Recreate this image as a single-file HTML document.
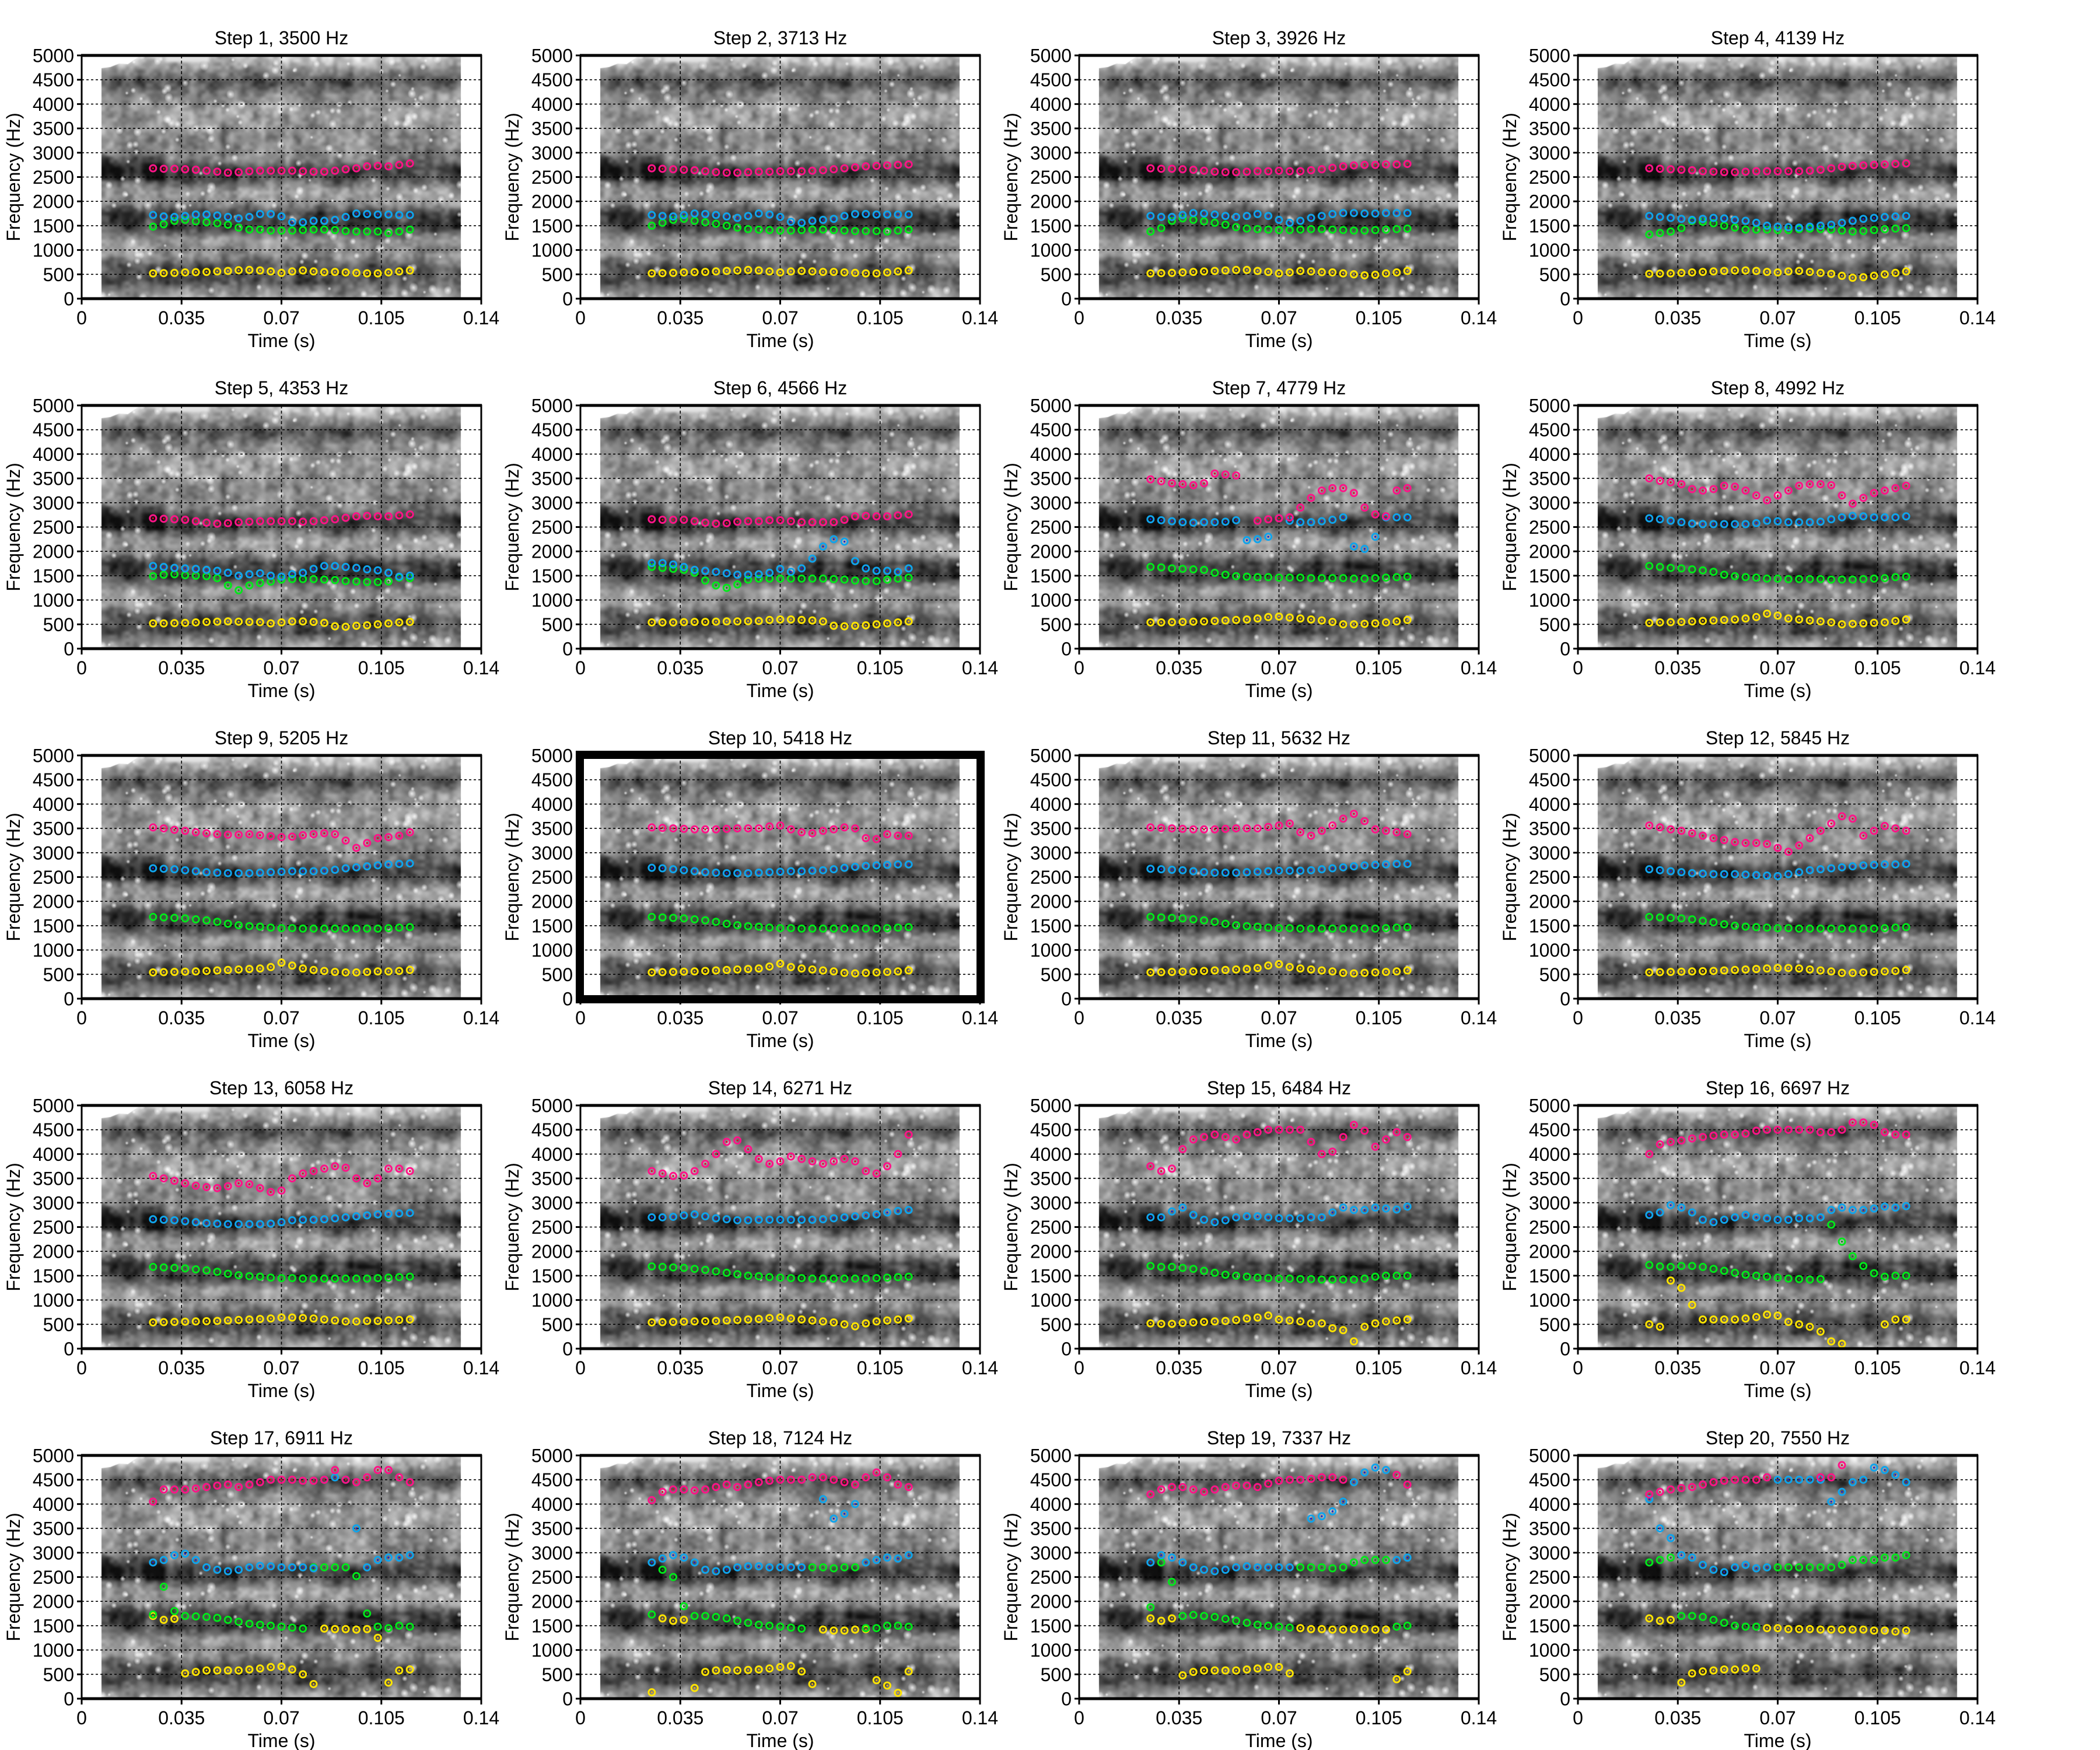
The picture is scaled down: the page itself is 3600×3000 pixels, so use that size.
<!DOCTYPE html>
<html><head><meta charset="utf-8"><title>Formant tracks per step</title>
<style>
html,body{margin:0;padding:0;background:#fff;}
#wrap{position:relative;width:3600px;height:3000px;overflow:hidden;}
#bg,#fg{position:absolute;left:0;top:0;}
text{font-family:"Liberation Sans",Arial,sans-serif;fill:#000;}
</style></head>
<body>
<div id="wrap">
<canvas id="bg" width="3600" height="3000"></canvas>
<svg id="fg" width="3600" height="3000" xmlns="http://www.w3.org/2000/svg"></svg>
</div>
<script>
const stepFreqs = [3500,3713,3926,4139,4353,4566,4779,4992,5205,5418,5632,5845,6058,6271,6484,6697,6911,7124,7337,7550];
const sampleTimes = [0.025,0.02875,0.0325,0.03625,0.04,0.04375,0.0475,0.05125,0.055,0.05875,0.0625,0.06625,0.07,0.07375,0.0775,0.08125,0.085,0.08875,0.0925,0.09625,0.1,0.10375,0.1075,0.11125,0.115];
const xTicks = [0,0.035,0.07,0.105,0.14];
const xTickLabels = ["0","0.035","0.07","0.105","0.14"];
const yTicks = [0,500,1000,1500,2000,2500,3000,3500,4000,4500,5000];
const highlightedStep = 10;

const yellowF1 = [
[520,525,530,540,545,550,560,570,585,590,580,560,530,560,580,560,545,550,540,530,520,520,540,560,580],
[520,525,530,540,545,550,560,570,580,590,580,560,540,560,570,560,550,550,540,530,520,520,540,560,580],
[520,525,530,540,550,560,570,580,590,590,570,550,520,540,570,560,545,540,520,500,480,490,520,540,570],
[510,515,520,530,540,550,560,570,580,580,570,550,540,560,570,550,530,510,470,430,440,470,500,530,560],
[520,520,525,530,540,550,555,560,555,550,545,520,540,560,560,550,530,460,450,470,480,500,520,540,550],
[540,540,540,545,550,550,555,560,560,565,570,590,600,600,590,580,560,470,460,470,480,500,520,540,560],
[540,540,545,550,555,560,570,580,590,600,620,650,660,640,620,600,580,550,500,500,510,520,540,560,590],
[530,540,545,550,560,570,580,590,600,620,650,720,680,620,600,580,560,540,500,510,520,530,540,570,600],
[540,545,550,555,560,570,580,590,600,610,620,650,740,680,620,590,570,550,540,540,550,560,560,570,590],
[540,545,550,555,560,570,580,590,600,610,620,660,720,650,620,600,580,560,530,520,530,540,550,560,580],
[540,545,550,555,560,570,580,590,600,610,630,680,710,650,620,600,580,560,530,520,530,540,550,560,580],
[540,545,550,555,560,565,570,580,590,600,610,620,630,630,620,600,580,560,530,530,540,550,560,570,590],
[540,545,550,555,560,565,570,580,590,600,610,620,640,640,630,620,600,580,560,560,570,570,580,590,600],
[540,545,550,555,560,565,570,580,590,600,610,630,640,620,600,580,560,540,500,460,520,560,580,600,620],
[520,510,510,530,540,550,560,570,590,620,640,680,600,580,560,520,520,420,380,150,450,520,560,580,600],
[500,450,1400,1250,900,600,600,600,600,620,650,700,680,550,500,450,350,150,100,null,null,null,500,600,600],
[1700,1620,1640,520,550,580,580,580,580,600,620,650,660,600,500,300,1440,1430,1430,1420,1430,1250,330,580,600],
[130,1650,1600,1620,220,550,580,590,580,590,600,620,650,670,560,300,1420,1400,1400,1420,1430,380,270,120,560],
[1650,1600,1650,480,550,580,580,580,580,600,620,650,650,520,1450,1430,1430,1420,1420,1430,1430,1420,1420,400,560],
[1650,1600,1620,330,520,560,580,600,600,620,620,1450,1450,1430,1430,1430,1420,1420,1420,1420,1420,1400,1400,1380,1400]
];
const greenF2 = [
[1480,1530,1600,1620,1590,1570,1550,1520,1460,1420,1420,1400,1400,1400,1410,1420,1420,1410,1390,1380,1380,1380,1350,1380,1420],
[1500,1560,1620,1640,1600,1570,1540,1500,1460,1430,1420,1410,1400,1400,1410,1420,1420,1410,1400,1390,1390,1390,1380,1400,1420],
[1380,1450,1600,1650,1620,1590,1560,1520,1470,1440,1430,1420,1410,1410,1420,1430,1430,1420,1410,1400,1400,1410,1420,1430,1440],
[1320,1350,1380,1450,1600,1580,1550,1500,1460,1420,1420,1420,1410,1410,1430,1440,1430,1420,1400,1380,1390,1410,1430,1440,1450],
[1490,1520,1530,1510,1500,1490,1450,1300,1200,1300,1350,1380,1420,1430,1430,1430,1420,1410,1390,1380,1370,1370,1380,1460,1450],
[1680,1660,1640,1620,1560,1400,1300,1250,1320,1420,1440,1440,1440,1440,1440,1440,1440,1430,1420,1400,1390,1390,1420,1440,1460],
[1680,1670,1650,1640,1630,1620,1560,1520,1490,1480,1470,1470,1460,1460,1460,1450,1450,1450,1450,1440,1440,1450,1460,1470,1480],
[1700,1680,1660,1650,1630,1610,1580,1520,1490,1470,1460,1440,1440,1430,1430,1430,1430,1420,1420,1420,1430,1440,1450,1470,1480],
[1680,1670,1660,1650,1630,1610,1580,1540,1510,1490,1480,1460,1450,1450,1440,1440,1440,1440,1440,1440,1440,1440,1450,1460,1470],
[1680,1670,1660,1650,1630,1610,1580,1540,1510,1490,1480,1460,1450,1450,1440,1440,1440,1440,1440,1440,1440,1440,1450,1460,1470],
[1680,1670,1660,1650,1630,1610,1580,1540,1510,1490,1480,1460,1450,1450,1440,1440,1440,1440,1440,1440,1440,1440,1450,1460,1470],
[1680,1670,1660,1650,1630,1600,1570,1530,1500,1480,1470,1460,1450,1450,1440,1440,1440,1440,1440,1440,1440,1440,1450,1460,1470],
[1680,1670,1660,1650,1630,1610,1580,1540,1510,1490,1480,1460,1450,1450,1440,1440,1440,1440,1440,1440,1440,1450,1460,1470,1480],
[1690,1680,1670,1660,1640,1620,1590,1560,1530,1500,1490,1470,1460,1450,1450,1440,1440,1440,1440,1440,1440,1450,1460,1470,1480],
[1700,1680,1680,1660,1640,1600,1560,1520,1500,1480,1460,1450,1440,1440,1430,1430,1420,1420,1420,1420,1440,1480,1500,1500,1500],
[1720,1690,1680,1700,1700,1680,1640,1600,1560,1520,1500,1480,1460,1440,1430,1420,1430,2550,2200,1900,1700,1550,1480,1500,1500],
[1730,2300,1800,1700,1690,1680,1660,1620,1580,1540,1520,1500,1480,1460,1440,2700,2700,2700,2700,2520,1750,1480,1450,1500,1480],
[1730,2650,2500,1900,1700,1700,1680,1650,1600,1560,1520,1500,1480,1460,1440,2700,2700,2680,2700,2700,1450,1450,1500,1500,1480],
[1880,2800,2400,1700,1720,1700,1680,1640,1600,1560,1520,1500,1480,1460,2700,2700,2700,2680,2700,2800,2850,2850,2850,1480,1500],
[2800,2850,2900,1700,1700,1680,1620,1560,1500,1480,1480,2700,2700,2700,2700,2700,2700,2700,2750,2850,2850,2850,2900,2900,2950]
];
const blueF3 = [
[1720,1690,1680,1700,1730,1730,1710,1680,1650,1680,1740,1740,1690,1570,1570,1600,1600,1620,1680,1750,1740,1730,1730,1720,1720],
[1720,1700,1690,1720,1750,1740,1720,1690,1660,1700,1750,1730,1680,1580,1560,1600,1620,1640,1700,1740,1740,1730,1730,1730,1730],
[1700,1680,1680,1720,1760,1750,1730,1700,1680,1700,1740,1700,1620,1560,1600,1660,1700,1740,1760,1760,1750,1750,1760,1760,1760],
[1700,1680,1660,1640,1620,1640,1660,1650,1620,1600,1560,1500,1480,1470,1460,1480,1500,1520,1560,1600,1640,1660,1680,1690,1700],
[1700,1680,1660,1650,1640,1620,1600,1560,1500,1530,1550,1500,1480,1530,1560,1640,1700,1700,1680,1660,1630,1610,1560,1480,1500],
[1760,1760,1730,1680,1620,1600,1580,1550,1520,1520,1530,1560,1640,1580,1650,1850,2100,2250,2200,1800,1650,1600,1600,1580,1650],
[2660,2640,2620,2600,2590,2600,2600,2610,2640,2230,2250,2300,2680,2630,2600,2600,2620,2650,2700,2100,2050,2300,2700,2700,2700],
[2680,2660,2630,2600,2570,2560,2560,2560,2560,2560,2580,2630,2620,2600,2600,2600,2610,2660,2700,2730,2720,2700,2700,2700,2720],
[2680,2670,2660,2640,2620,2600,2590,2580,2580,2580,2590,2600,2610,2620,2620,2620,2630,2650,2680,2700,2720,2740,2760,2770,2780],
[2690,2680,2660,2640,2620,2600,2590,2580,2580,2580,2590,2600,2610,2620,2620,2630,2640,2660,2690,2710,2730,2740,2750,2760,2760],
[2670,2660,2650,2640,2620,2600,2590,2590,2590,2600,2610,2620,2630,2630,2630,2640,2660,2680,2700,2720,2740,2750,2760,2770,2770],
[2660,2640,2620,2600,2580,2570,2560,2560,2560,2550,2540,2530,2520,2560,2600,2640,2660,2680,2700,2720,2740,2750,2760,2760,2770],
[2660,2650,2640,2620,2600,2580,2570,2560,2560,2560,2560,2570,2600,2640,2650,2650,2660,2680,2700,2720,2740,2760,2770,2780,2790],
[2700,2700,2710,2740,2760,2720,2680,2660,2640,2640,2650,2650,2650,2650,2650,2650,2660,2680,2700,2720,2740,2760,2800,2830,2850],
[2700,2700,2820,2900,2750,2650,2600,2640,2700,2720,2720,2700,2680,2680,2680,2700,2700,2800,2900,2850,2850,2900,2880,2860,2920],
[2750,2800,2950,2900,2800,2650,2600,2650,2700,2750,2700,2680,2650,2650,2680,2680,2700,2850,2900,2850,2850,2880,2920,2900,2930],
[2800,2850,2950,2980,2850,2700,2650,2620,2650,2700,2730,2720,2700,2700,2700,2680,4500,4550,4500,3500,2700,2850,2900,2900,2950],
[2800,2880,2950,2900,2800,2650,2620,2650,2700,2720,2720,2700,2700,2700,2700,4550,4100,3700,3800,4000,2800,2850,2900,2880,2950],
[2800,2950,2900,2800,2700,2650,2620,2650,2700,2720,2700,2700,2700,2700,4500,3700,3750,3850,4050,4450,4650,4750,4700,2850,2900],
[4100,3500,3300,2950,2900,2750,2650,2600,2700,2750,2680,2700,4500,4500,4500,4500,4500,4050,4250,4450,4500,4750,4700,4600,4450]
];
const pinkF4 = [
[2680,2670,2670,2660,2650,2630,2610,2590,2600,2620,2630,2630,2630,2630,2620,2610,2610,2630,2660,2680,2720,2730,2720,2750,2780],
[2680,2670,2660,2650,2640,2620,2600,2590,2590,2600,2610,2610,2620,2620,2620,2630,2640,2660,2680,2700,2720,2730,2740,2750,2760],
[2680,2670,2670,2660,2650,2630,2610,2600,2600,2610,2620,2620,2630,2620,2620,2640,2660,2690,2720,2740,2750,2750,2760,2760,2770],
[2680,2670,2660,2650,2640,2620,2610,2600,2600,2610,2620,2620,2620,2620,2620,2630,2650,2680,2710,2730,2740,2750,2760,2770,2780],
[2680,2670,2660,2650,2620,2590,2570,2580,2600,2610,2620,2620,2620,2620,2610,2620,2640,2660,2690,2720,2730,2720,2720,2740,2760],
[2660,2650,2650,2650,2620,2590,2570,2580,2610,2620,2620,2640,2640,2620,2600,2600,2600,2600,2650,2720,2730,2720,2720,2740,2760],
[3480,3440,3400,3380,3360,3400,3600,3580,3560,null,2630,2660,2680,2700,2900,3100,3250,3300,3300,3200,2900,2760,2720,3250,3300],
[3500,3450,3420,3380,3280,3250,3280,3350,3330,3250,3150,3050,3150,3250,3350,3380,3380,3360,3150,2980,3100,3200,3250,3300,3350],
[3520,3500,3470,3450,3420,3400,3380,3370,3370,3380,3360,3340,3320,3330,3360,3380,3400,3380,3250,3100,3200,3300,3320,3350,3420],
[3520,3510,3500,3490,3480,3480,3480,3490,3500,3500,3500,3540,3560,3480,3420,3400,3450,3480,3520,3500,3300,3280,3380,3350,3350],
[3520,3510,3500,3490,3480,3480,3480,3490,3500,3500,3500,3530,3560,3600,3420,3350,3450,3560,3700,3800,3650,3480,3450,3420,3380],
[3560,3520,3480,3450,3400,3350,3300,3260,3220,3200,3200,3180,3100,3020,3150,3300,3450,3600,3750,3700,3350,3450,3550,3500,3450],
[3550,3500,3450,3400,3350,3320,3300,3340,3400,3380,3300,3220,3250,3500,3600,3650,3700,3750,3720,3500,3400,3500,3700,3700,3650],
[3650,3600,3550,3560,3650,3800,4000,4250,4280,4100,3900,3800,3850,3950,3900,3850,3800,3850,3900,3850,3650,3600,3750,4000,4400],
[3750,3650,3700,4100,4300,4350,4400,4350,4300,4400,4450,4500,4500,4500,4500,4250,4000,4050,4350,4600,4480,4150,4300,4450,4350],
[4000,4200,4250,4280,4320,4350,4380,4400,4400,4420,4480,4500,4500,4500,4500,4500,4450,4450,4500,4650,4650,4600,4450,4400,4400],
[4050,4300,4300,4300,4320,4350,4380,4400,4350,4400,4450,4500,4500,4500,4480,4480,4500,4700,4500,4450,4550,4700,4700,4550,4450],
[4080,4250,4300,4300,4280,4300,4350,4400,4350,4400,4450,4480,4500,4500,4500,4550,4550,4500,4450,4400,4550,4650,4550,4400,4350],
[4200,4300,4350,4350,4300,4250,4300,4350,4380,4380,4350,4420,4480,4500,4500,4520,4550,4550,4500,null,null,null,null,4600,4400],
[4200,4250,4300,4330,4350,4400,4450,4480,4500,4500,4500,4550,null,null,null,null,4550,4550,4800,null,null,null,null,null,null]
];

const tracks = [
  {name:'f1-track', vals:yellowF1, color:'#ffe400', inner:'#f0b000'},
  {name:'f2-track', vals:greenF2, color:'#00e81a', inner:'#108a10'},
  {name:'f3-track', vals:blueF3, color:'#10a4ec', inner:'#1020d0'},
  {name:'f4-track', vals:pinkF4, color:'#ff1488', inner:'#e00020'}
];

const PW = 685, PH = 417, T_MAX = 0.14, F_MAX = 5000;
const colLeft = [140, 995, 1850, 2705];
const rowTop = [95, 695, 1295, 1895, 2495];
const NS = 'http://www.w3.org/2000/svg';
const svg = document.getElementById('fg');

function mk(tag, attrs, parent) {
  const e = document.createElementNS(NS, tag);
  for (const k in attrs) e.setAttribute(k, attrs[k]);
  (parent || svg).appendChild(e);
  return e;
}

// ---- spectrogram texture (shared background for all panels) ----
function mulberry(a){return function(){a|=0;a=a+0x6D2B79F5|0;let t=Math.imul(a^a>>>15,1|a);t=t+Math.imul(t^t>>>7,61|t)^t;return((t^t>>>14)>>>0)/4294967296;};}
const bandF = [0,150,350,650,900,1200,1450,1750,1950,2200,2450,2650,2850,3100,3500,3900,4200,4450,4650,4850,5000];
const bandB = [170,140,75,80,150,150,70,65,150,170,80,55,125,135,150,160,130,80,125,185,205];
function baseB(f){
  for(let i=1;i<bandF.length;i++){ if(f<=bandF[i]){const u=(f-bandF[i-1])/(bandF[i]-bandF[i-1]);return bandB[i-1]+u*(bandB[i]-bandB[i-1]);} }
  return 205;
}
function buildSpec(){
  const sw=Math.round(0.126/T_MAX*PW), sh=PH;
  // coarse noise layer
  const NW=34,NH=22;
  const cn=document.createElement('canvas'); cn.width=NW; cn.height=NH;
  const gn=cn.getContext('2d'); const im=gn.createImageData(NW,NH);
  const rn=mulberry(99);
  for(let i=0;i<NW*NH;i++){const v=Math.round(128+(rn()-0.5)*150);im.data[i*4]=im.data[i*4+1]=im.data[i*4+2]=v;im.data[i*4+3]=255;}
  gn.putImageData(im,0,0);
  const W=90,H=70;
  const c=document.createElement('canvas'); c.width=W; c.height=H;
  const g=c.getContext('2d');
  g.imageSmoothingEnabled=true; g.drawImage(cn,0,0,W,H);
  const noise=g.getImageData(0,0,W,H);
  const img=g.createImageData(W,H);
  const r=mulberry(12345);
  for(let y=0;y<H;y++){for(let x=0;x<W;x++){
    const f=F_MAX*(1-(y+0.5)/H); const t=0.007+(x+0.5)/W*0.126;
    const k=(y*W+x)*4;
    let b=baseB(f);
    if(t<0.03 && f>2400 && f<2900) b-=40;
    if(t<0.02 && f>1500 && f<1900) b-=25;
    b+= (noise.data[k]-128)*0.55;
    b+= (r()-0.5)*45;
    b+= 10*Math.sin(x*1.7+y*0.15);
    if(f>4850 && (t<0.02 || (t>0.03&&t<0.045))) b=Math.max(b,225);
    b=Math.max(15,Math.min(250,b));
    img.data[k]=img.data[k+1]=img.data[k+2]=b; img.data[k+3]=255;
  }}
  g.putImageData(img,0,0);
  const big=document.createElement('canvas'); big.width=sw; big.height=sh;
  const bg=big.getContext('2d'); bg.imageSmoothingEnabled=true; bg.imageSmoothingQuality='high';
  bg.drawImage(c,0,0,sw,sh);
  const r2=mulberry(777);
  for(let i=0;i<420;i++){
    const x=r2()*sw, y=r2()*sh; const f=F_MAX*(1-y/sh);
    const p=baseB(f)/205; if(r2()>p*p) continue;
    const rad=3+r2()*6;
    const gr=bg.createRadialGradient(x,y,0,x,y,rad);
    gr.addColorStop(0,'rgba(255,255,255,0.85)'); gr.addColorStop(1,'rgba(255,255,255,0)');
    bg.fillStyle=gr; bg.beginPath(); bg.ellipse(x,y,rad*0.8,rad,0,0,Math.PI*2); bg.fill();
  }
  // white ragged top-left corner
  bg.fillStyle='#fff'; bg.beginPath(); bg.moveTo(0,0); bg.lineTo(0,22); bg.lineTo(15,20); bg.lineTo(30,14); bg.lineTo(45,15); bg.lineTo(58,6); bg.lineTo(66,0); bg.closePath(); bg.fill();
  return big;
}
const spec = buildSpec();
const ctx = document.getElementById('bg').getContext('2d');
ctx.fillStyle='#fff'; ctx.fillRect(0,0,3600,3000);

// ---- panels ----
for (let s = 0; s < 20; s++) {
  const L = colLeft[s % 4], T = rowTop[Math.floor(s / 4)];
  const xs = t => L + t / T_MAX * PW;
  const ys = f => T + PH - f / F_MAX * PH;
  ctx.drawImage(spec, xs(0.007), T);

  const g = mk('g', {});
  
  

  const title = mk('text', {x: L + PW / 2, y: T - 19, 'font-size': 32, 'text-anchor': 'middle'}, g);
  title.textContent = 'Step ' + (s + 1) + ', ' + stepFreqs[s] + ' Hz';
  
  

  for (let i = 1; i < yTicks.length - 1; i++) {
    const gl = mk('line', {x1: L, x2: L + PW, y1: ys(yTicks[i]), y2: ys(yTicks[i]), stroke: '#000', 'stroke-width': 1.6, 'stroke-dasharray': '4 4'}, g);
    
    
  }
  for (let i = 1; i < xTicks.length - 1; i++) {
    const gl = mk('line', {x1: xs(xTicks[i]), x2: xs(xTicks[i]), y1: T, y2: T + PH, stroke: '#000', 'stroke-width': 1.6, 'stroke-dasharray': '5 4'}, g);
    
    
  }

  tracks.forEach(tr => {
    const tg = mk('g', {}, g);
    
    
    const vals = tr.vals[s];
    vals.forEach((v, i) => {
      if (v === null) return;
      const cx = xs(sampleTimes[i]), cy = ys(v);
      const c = mk('circle', {cx: cx, cy: cy, r: 5.5, fill: 'none', stroke: tr.color, 'stroke-width': 3}, tg);
      
      
      const d = mk('circle', {cx: cx, cy: cy, r: 1.6, fill: tr.inner}, tg);
      
      
    });
  });

  const fr = mk('rect', {x: L, y: T, width: PW, height: PH, fill: 'none', stroke: '#000', 'stroke-width': 3}, g);
  
  
  mk('line', {x1: L - 1, x2: L + PW + 1, y1: T, y2: T, stroke: '#000', 'stroke-width': 5}, g);
  mk('line', {x1: L - 1, x2: L + PW + 1, y1: T + PH, y2: T + PH, stroke: '#000', 'stroke-width': 5}, g);

  yTicks.forEach(f => {
    const tk = mk('line', {x1: L - 8, x2: L, y1: ys(f), y2: ys(f), stroke: '#000', 'stroke-width': 3}, g);
    
    
    const lb = mk('text', {x: L - 13, y: ys(f) + 11.5, 'font-size': 32, 'text-anchor': 'end'}, g);
    lb.textContent = String(f);
    
    
  });
  xTicks.forEach((t, i) => {
    const tk = mk('line', {x1: xs(t), x2: xs(t), y1: T + PH, y2: T + PH + 10, stroke: '#000', 'stroke-width': 3}, g);
    
    
    const lb = mk('text', {x: xs(t), y: T + PH + 44, 'font-size': 32, 'text-anchor': 'middle'}, g);
    lb.textContent = xTickLabels[i];
    
    
  });
  const xt = mk('text', {x: L + PW / 2, y: T + PH + 83, 'font-size': 32, 'text-anchor': 'middle'}, g);
  xt.textContent = 'Time (s)';
  
  
  const yx = L - 106, yy = T + PH / 2;
  const yt = mk('text', {x: yx, y: yy, 'font-size': 32, 'text-anchor': 'middle', transform: 'rotate(-90 ' + yx + ' ' + yy + ')'}, g);
  yt.textContent = 'Frequency (Hz)';
  
  

  if (s + 1 === highlightedStep) {
    const hb = mk('rect', {x: L - 1, y: T - 1, width: PW + 2, height: PH + 2, fill: 'none', stroke: '#000', 'stroke-width': 14}, g);
    
    
  }
}
</script>
</body></html>
